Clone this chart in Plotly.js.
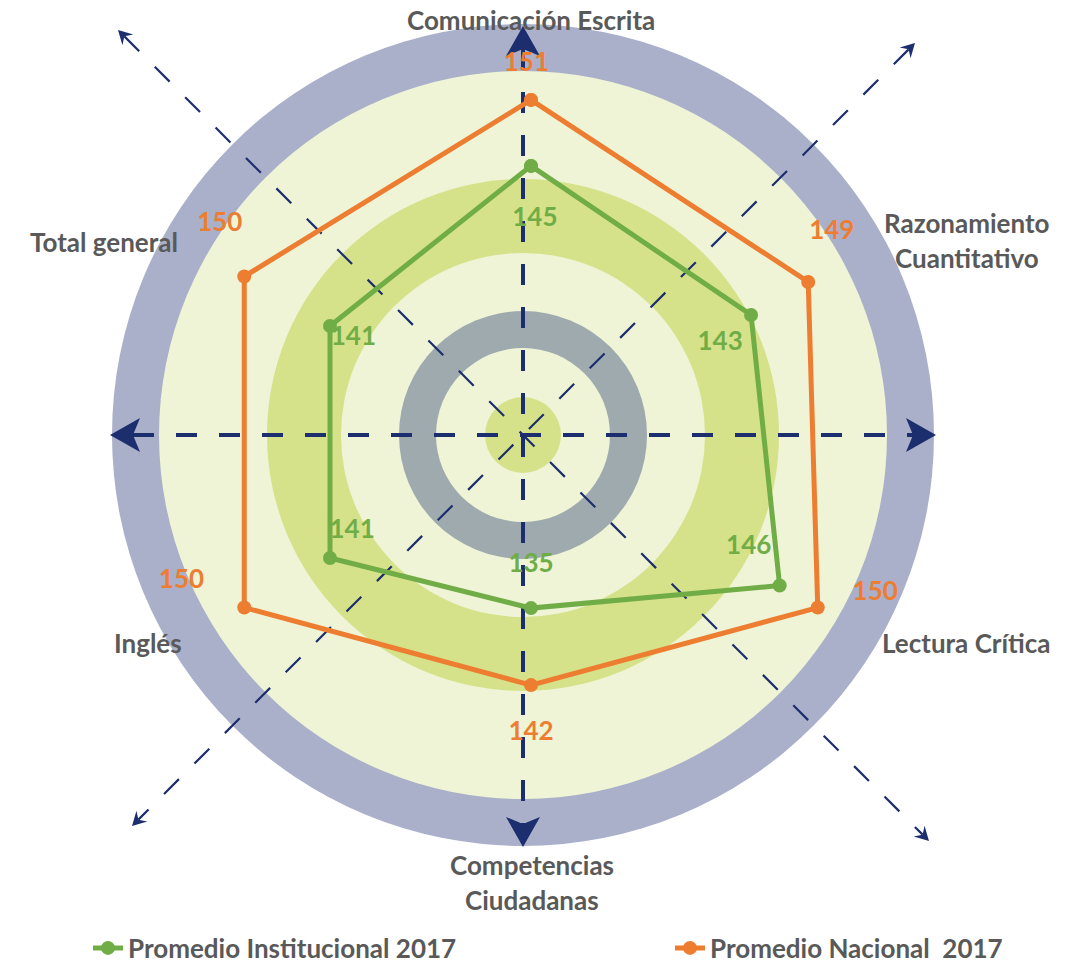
<!DOCTYPE html>
<html><head><meta charset="utf-8">
<script src="https://cdn.plot.ly/plotly-3.0.1.min.js"></script>
<style>html,body{margin:0;padding:0;background:#fff}#chart{width:1086px;height:963px}</style>
</head><body><div id="chart"></div>
<script>
// ---------- DATA ----------
const categories = ['Comunicación Escrita', 'Razonamiento Cuantitativo', 'Lectura Crítica', 'Competencias Ciudadanas', 'Inglés', 'Total general'];
const institucional = [145, 143, 146, 135, 141, 141];
const nacional = [151, 149, 150, 142, 150, 150];
const seriesNames = ['Promedio Institucional 2017', 'Promedio Nacional  2017'];

// ---------- STYLE / LAYOUT ----------
const W = 1086, H = 963;
const GREEN = '#70ad47', ORANGE = '#ed7d31', NAVY = '#1c2e6e', GREY_TXT = '#595959';
const FONT = 'Lato, "Open Sans", sans-serif';
const px = x => x / W;
const py = y => 1 - y / H;

// polar placement (pixels)
const PC = {x: 531, y: 442, R: 400};
const rStart = 119.9, pxPerUnit = 11.0;
const rEnd = rStart + PC.R / pxPerUnit;

// label offsets (radial units, degrees)
const instLabelOff = [[-4.9, 1], [-3.7, 2.4], [-4.1, -4.1], [-3.9, 0], [-2.9, 3.3], [-2.4, 0.3]];
const nacLabelOff = [[3.2, -0.7], [4.2, -4.8], [4.1, -6.2], [4.4, 0], [4.1, 8.3], [4.4, 4.9]];

// category label placement (pixels), wrap -> split into lines
const catLabelPos = [
  {x: 531, y: [20], wrap: false},
  {x: 967, y: [223, 258], wrap: true},
  {x: 966, y: [643], wrap: false},
  {x: 531.5, y: [865, 900], wrap: true},
  {x: 148, y: [643], wrap: false},
  {x: 104, y: [242], wrap: false}
];

const angles = categories.map((c, i) => i * 360 / categories.length);
const closeR = a => a.concat([a[0]]);
const closeT = a => a.concat([a[0]]);

const traces = [
  {
    type: 'scatterpolar', mode: 'lines+markers', name: seriesNames[0], legend: 'legend',
    r: closeR(institucional), theta: closeT(angles),
    line: {color: GREEN, width: 5}, marker: {color: GREEN, size: 14},
    cliponaxis: false, hoverinfo: 'skip'
  },
  {
    type: 'scatterpolar', mode: 'lines+markers', name: seriesNames[1], legend: 'legend2',
    r: closeR(nacional), theta: closeT(angles),
    line: {color: ORANGE, width: 5}, marker: {color: ORANGE, size: 14},
    cliponaxis: false, hoverinfo: 'skip'
  },
  {
    type: 'scatterpolar', mode: 'text', showlegend: false,
    r: institucional.map((v, i) => v + instLabelOff[i][0]),
    theta: angles.map((a, i) => a + instLabelOff[i][1]),
    text: institucional.map(String),
    textfont: {family: FONT, size: 26, color: GREEN, weight: 'bold'},
    cliponaxis: false, hoverinfo: 'skip'
  },
  {
    type: 'scatterpolar', mode: 'text', showlegend: false,
    r: nacional.map((v, i) => v + nacLabelOff[i][0]),
    theta: angles.map((a, i) => a + nacLabelOff[i][1]),
    text: nacional.map(String),
    textfont: {family: FONT, size: 26, color: ORANGE, weight: 'bold'},
    cliponaxis: false, hoverinfo: 'skip'
  }
];

// background target circles
const BG = {x: 523, y: 435};
const rings = [
  {r: 411, c: '#aab0c9'},
  {r: 364, c: '#eef4d5'},
  {r: 256, c: '#d6e28a'},
  {r: 182, c: '#eef4d5'},
  {r: 124, c: '#9faaae'},
  {r: 87, c: '#eef4d5'},
  {r: 38, c: '#d6e28a'}
];
const shapes = rings.map(g => ({
  type: 'circle', xref: 'paper', yref: 'paper', layer: 'below',
  x0: px(BG.x - g.r), x1: px(BG.x + g.r), y0: py(BG.y + g.r), y1: py(BG.y - g.r),
  fillcolor: g.c, line: {width: 0}
}));

// axes arrows
function arrowPath(t, u, L, Wd, N) {
  const n = [-u[1], u[0]];
  const b1 = [t[0] - L * u[0] + Wd * n[0], t[1] - L * u[1] + Wd * n[1]];
  const b2 = [t[0] - L * u[0] - Wd * n[0], t[1] - L * u[1] - Wd * n[1]];
  const nc = [t[0] - N * u[0], t[1] - N * u[1]];
  const P = p => px(p[0]) + ',' + py(p[1]);
  return 'M' + P(t) + 'L' + P(b1) + 'L' + P(nc) + 'L' + P(b2) + 'Z';
}
const axesArrows = [
  {a: [523, 26], b: [523, 847], big: true},
  {a: [110, 435], b: [936, 435], big: true},
  {a: [118, 30], b: [929, 841], big: false},
  {a: [915, 43], b: [132, 826], big: false}
];
axesArrows.forEach(ax => {
  const dx = ax.b[0] - ax.a[0], dy = ax.b[1] - ax.a[1];
  const len = Math.hypot(dx, dy);
  const u = [dx / len, dy / len];
  const L = ax.big ? 30 : 14, Wd = ax.big ? 17 : 7.7, N = ax.big ? 23 : 9;
  const lw = ax.big ? 4 : 2.2;
  shapes.push({
    type: 'line', xref: 'paper', yref: 'paper', layer: 'below',
    x0: px(ax.a[0] + N * u[0]), y0: py(ax.a[1] + N * u[1]),
    x1: px(ax.b[0] - N * u[0]), y1: py(ax.b[1] - N * u[1]),
    line: {color: NAVY, width: lw, dash: '21px,22px'}
  });
  shapes.push({type: 'path', xref: 'paper', yref: 'paper', layer: 'below',
    path: arrowPath(ax.b, u, L, Wd, N), fillcolor: NAVY, line: {width: 0}});
  shapes.push({type: 'path', xref: 'paper', yref: 'paper', layer: 'below',
    path: arrowPath(ax.a, [-u[0], -u[1]], L, Wd, N), fillcolor: NAVY, line: {width: 0}});
});

// category labels
const annotations = [];
categories.forEach((c, i) => {
  const p = catLabelPos[i];
  const lines = p.wrap ? c.split(' ') : [c];
  lines.forEach((t, k) => annotations.push({
    text: t, xref: 'paper', yref: 'paper', x: px(p.x), y: py(p.y[k]),
    xanchor: 'center', yanchor: 'middle', showarrow: false,
    font: {family: FONT, size: 26, color: GREY_TXT, weight: 'bold'}
  }));
});

const legendStyle = {
  orientation: 'h', y: py(948), xanchor: 'left', yanchor: 'middle',
  font: {family: FONT, size: 26, color: GREY_TXT, weight: 'bold'},
  bgcolor: 'rgba(0,0,0,0)'
};

const layout = {
  width: W, height: H,
  margin: {l: 0, r: 0, t: 0, b: 0, autoexpand: false},
  paper_bgcolor: '#ffffff',
  showlegend: true,
  legend: Object.assign({x: px(88)}, legendStyle),
  legend2: Object.assign({x: px(670)}, legendStyle),
  polar: {
    domain: {x: [px(PC.x - PC.R), px(PC.x + PC.R)], y: [py(PC.y + PC.R), py(PC.y - PC.R)]},
    bgcolor: 'rgba(0,0,0,0)',
    radialaxis: {visible: false, range: [rStart, rEnd]},
    angularaxis: {visible: false, rotation: 90, direction: 'clockwise'}
  },
  shapes: shapes,
  annotations: annotations
};

Plotly.newPlot('chart', traces, layout, {staticPlot: true, displayModeBar: false});
</script>
</body></html>
